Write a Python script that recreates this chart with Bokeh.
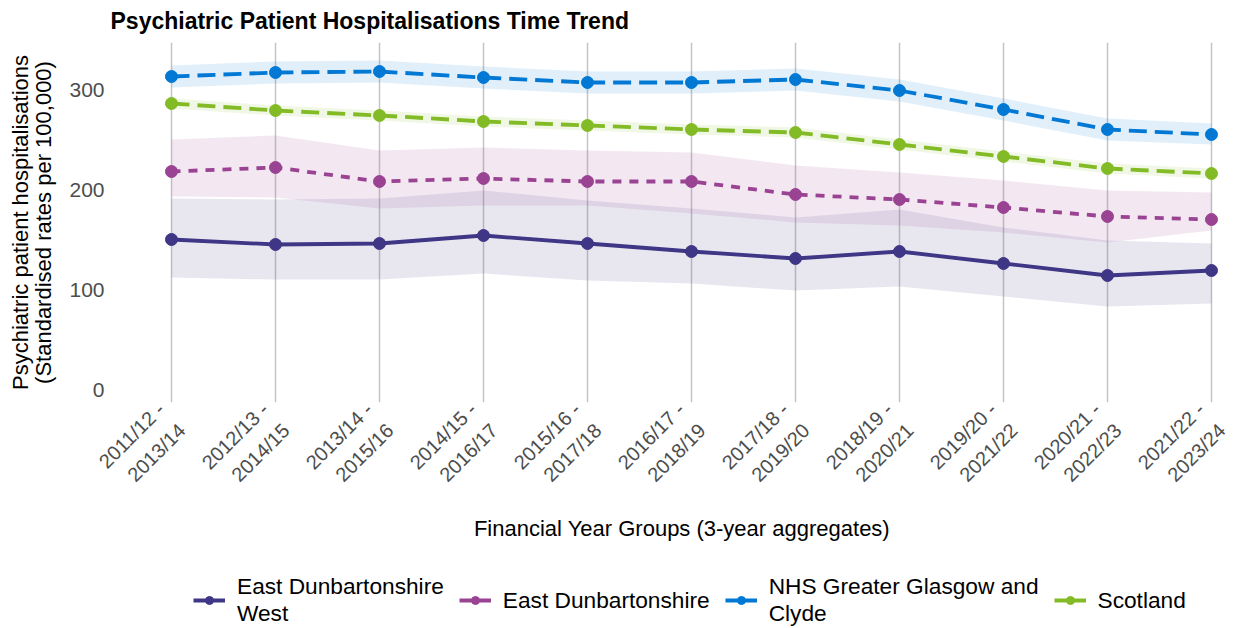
import math
from bokeh.plotting import figure
from bokeh.models import FixedTicker, Legend, LegendItem, Range1d
from bokeh.layouts import column
from bokeh.embed import file_html
from bokeh.resources import INLINE

periods = ["2011/12 -\n2013/14", "2012/13 -\n2014/15", "2013/14 -\n2015/16", "2014/15 -\n2016/17",
           "2015/16 -\n2017/18", "2016/17 -\n2018/19", "2017/18 -\n2019/20", "2018/19 -\n2020/21",
           "2019/20 -\n2021/22", "2020/21 -\n2022/23", "2021/22 -\n2023/24"]

edw_rate = [150, 145, 146, 154, 146, 138, 131, 138, 126, 114, 119]
edw_lower = [112, 110, 110, 116, 109, 106, 99, 103, 93, 83, 86]
edw_upper = [191, 190, 191, 199, 189, 181, 172, 180, 162, 149, 146]

ed_rate = [218, 222, 208, 211, 208, 208, 195, 190, 182, 173, 170]
ed_lower = [193, 192, 181, 184, 184, 176, 167, 164, 157, 147, 159]
ed_upper = [250, 254, 239, 242, 239, 237, 224, 217, 209, 199, 197]

nhs_rate = [313, 317, 318, 312, 307, 307, 310, 299, 280, 260, 255]
nhs_lower = [302, 306, 307, 301, 296, 296, 299, 288, 269, 249, 245]
nhs_upper = [324, 328, 329, 323, 318, 318, 321, 310, 291, 271, 266]

sco_rate = [286, 279, 274, 268, 264, 260, 257, 245, 233, 221, 216]
sco_lower = [281, 274, 269, 263, 259, 255, 252, 240, 228, 216, 211]
sco_upper = [291, 284, 279, 273, 269, 265, 262, 250, 238, 226, 221]

series = [
    ("East Dunbartonshire\nWest", edw_rate, edw_lower, edw_upper, "#3F3685", "solid"),
    ("East Dunbartonshire", ed_rate, ed_lower, ed_upper, "#9B4393", "9 8"),
    ("NHS Greater Glasgow and\nClyde", nhs_rate, nhs_lower, nhs_upper, "#0078D4", "18 8"),
    ("Scotland", sco_rate, sco_lower, sco_upper, "#83BB26", "18 8"),
]

FONT = "Liberation Sans"
x = list(range(len(periods)))

p = figure(width=1253, height=560, output_backend="svg", toolbar_location=None,
           x_range=Range1d(-0.5865, 10.404), y_range=Range1d(-13, 347),
           min_border_left=110, min_border_top=42, min_border_right=0,
           min_border_bottom=158)

p.title.text = "Psychiatric Patient Hospitalisations Time Trend"
p.title.text_font = FONT
p.title.text_font_size = "23px"
p.title.text_font_style = "bold"
p.title.text_color = "#000000"
p.title.offset = 0
p.title.standoff = 14
p.title.vertical_align = "top"

for name, rate, lo, hi, col, dash in series:
    p.varea(x=x, y1=lo, y2=hi, fill_color=col, fill_alpha=0.12)

for name, rate, lo, hi, col, dash in series:
    p.line(x, rate, line_color=col, line_width=3.8, line_dash=dash)
    p.scatter(x, rate, size=12, fill_color=col, line_color=col)

p.xaxis.ticker = FixedTicker(ticks=x)
p.xaxis.major_label_overrides = {i: lab for i, lab in enumerate(periods)}
p.xaxis.major_label_orientation = math.pi / 4
p.xaxis.axis_label = "Financial Year Groups (3-year aggregates)"
p.yaxis.axis_label = "Psychiatric patient hospitalisations\n(Standardised rates per 100,000)"
p.yaxis.ticker = FixedTicker(ticks=[0, 100, 200, 300])

for ax in (p.xaxis[0], p.yaxis[0]):
    ax.axis_line_color = None
    ax.major_tick_line_color = None
    ax.minor_tick_line_color = None
    ax.major_tick_in = 0
    ax.major_tick_out = 0
    ax.minor_tick_in = 0
    ax.minor_tick_out = 0
    ax.major_label_text_font = FONT
    ax.major_label_text_color = "#4D4D4D"
    ax.axis_label_text_font = FONT
    ax.axis_label_text_font_style = "normal"
    ax.axis_label_text_color = "#000000"
    ax.axis_label_text_font_size = "22px"

p.yaxis.major_label_text_font_size = "21px"
p.yaxis.major_label_standoff = 6
p.yaxis.axis_label_standoff = 10
p.yaxis.axis_label_text_line_height = 0.95
p.xaxis.major_label_text_font_size = "20px"
p.xaxis.major_label_text_line_height = 1.35
p.xaxis.major_label_standoff = 14
p.xaxis.axis_label_standoff = 0

p.xgrid.grid_line_color = "#C4C4C4"
p.xgrid.grid_line_width = 1.5
p.ygrid.grid_line_color = None
p.outline_line_color = None

# legend panel (separate strip below the chart)
lg = figure(width=1253, height=68, output_backend="svg", toolbar_location=None,
            x_range=Range1d(100, 101), y_range=Range1d(1000, 1001),
            x_axis_location=None, y_axis_location=None,
            min_border=0, min_border_left=0, min_border_right=0,
            min_border_top=0, min_border_bottom=0)
lg.grid.visible = False
lg.outline_line_color = None

items = []
for name, rate, lo, hi, col, dash in series:
    l = lg.line(x, rate, line_color=col, line_width=3.8, line_dash="solid")
    s = lg.scatter(x, rate, size=10, fill_color=col, line_color=col)
    items.append(LegendItem(label=name, renderers=[l, s]))

legend = Legend(items=items, orientation="horizontal", location=(83, 1),
                label_text_font=FONT, label_text_font_size="22.7px",
                label_text_line_height=1.0,
                label_text_color="#000000", glyph_width=32, glyph_height=20,
                label_standoff=12, spacing=15, border_line_color=None,
                background_fill_alpha=0, margin=0, padding=2)
lg.add_layout(legend, "center")

layout = column(p, lg, spacing=0)
open("out.html", "w").write(file_html(layout, INLINE))
